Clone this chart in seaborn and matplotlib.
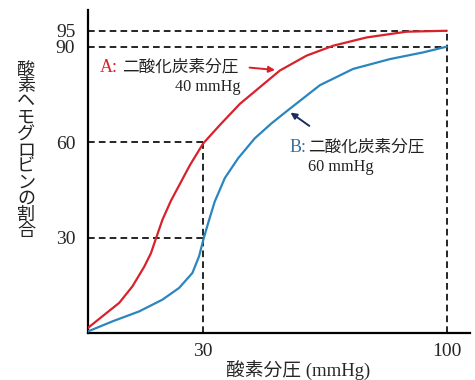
import numpy as np
import matplotlib
matplotlib.use('Agg')
import matplotlib.pyplot as plt
import pandas as pd
import seaborn as sns

# curve A: CO2 partial pressure 40 mmHg
a_po2 = [-3, 1.2, 6.0, 9.8, 13.2, 15.1, 16.5, 18.4, 20.8, 22.5, 26.3, 30.1, 34.9, 40.6,
         46.4, 52.1, 59.8, 67.4, 77.0, 88.4, 100]
a_sat = [1.6, 5.3, 9.5, 14.7, 20.9, 25.1, 29.6, 35.6, 41.5, 45.0, 52.8, 59.6, 65.4, 72.0,
         77.3, 82.5, 87.2, 90.3, 92.9, 94.7, 95]

# curve B: CO2 partial pressure 60 mmHg
b_po2 = [-3, 4.1, 11.7, 18.4, 23.2, 27.0, 28.9, 30.2, 31.5, 33.4, 36.3, 40.1, 44.9, 49.7,
         54.5, 63.6, 73.1, 83.7, 93.2, 100]
b_sat = [0.5, 3.7, 6.8, 10.5, 14.2, 18.9, 24.1, 29.6, 34.5, 41.3, 48.7, 54.9, 61.2, 65.9,
         70.1, 77.9, 83.0, 86.1, 88.2, 90]

y_ticks = [30, 60, 90, 95]
x_ticks = [30, 100]

red = '#d8222b'
blue = '#2a86bd'
serif = ['Liberation Serif', 'Noto Sans CJK JP']
gothic = ['Noto Sans CJK JP', 'DejaVu Sans']

sns.set_style('white')
plt.rcParams['font.family'] = gothic

df_a = pd.DataFrame({'po2': a_po2, 'sat': a_sat})
df_b = pd.DataFrame({'po2': b_po2, 'sat': b_sat})

fig = plt.figure(figsize=(4.75, 3.8), dpi=100)
ax = fig.add_axes([0.185, 0.1235, 0.804, 0.85])

# dashed guide lines
dash = dict(color='black', lw=1.2, ls=(0, (4, 2.5)), zorder=1)
for v in [95, 90]:
    ax.plot([-3, 100], [v, v], **dash)
ax.plot([100, 100], [0, 95], **dash)
for v in [60, 30]:
    ax.plot([-3, 30], [v, v], **dash)
ax.plot([30, 30], [0, 60], **dash)

sns.lineplot(data=df_a, x='po2', y='sat', color=red, lw=1.6, ax=ax, zorder=3)
sns.lineplot(data=df_b, x='po2', y='sat', color=blue, lw=1.6, ax=ax, zorder=3)

ax.set_xlim(-3, 106.6)
ax.set_ylim(0, 101.5)
ax.set_xticks(x_ticks)
ax.set_yticks(y_ticks)
ax.set_xticklabels([str(t) for t in x_ticks], family=serif, fontsize=14)
ax.set_yticklabels([str(t) for t in y_ticks], family=serif, fontsize=14)
ax.tick_params(axis='both', length=0)
ax.tick_params(axis='y', pad=9)
ax.tick_params(axis='x', pad=7)
ax.set_xlabel('')
ax.set_ylabel('')
sns.despine(ax=ax)
for s in ['left', 'bottom']:
    ax.spines[s].set_linewidth(1.6)
    ax.spines[s].set_color('black')

# labels for the curves
ax.text(0.4, 83.5, 'A:', color=red, family=serif, fontsize=13, va='center')
ax.text(6.9, 83.5, '二酸化炭素分圧', color='#222222', fontsize=12, va='center')
ax.text(31.4, 77.4, '40 mmHg', color='#222222', family=serif, fontsize=11.7, ha='center', va='center')
ax.annotate('', xy=(51.5, 82.6), xytext=(42.6, 83.5),
            arrowprops=dict(arrowstyle='-|>', color=red, lw=1.4, mutation_scale=9))

ax.text(54.8, 58.4, 'B:', color='#3b6f9c', family=serif, fontsize=13, va='center')
ax.text(60.3, 58.4, '二酸化炭素分圧', color='#222222', fontsize=12, va='center')
ax.text(60.1, 52.1, '60 mmHg', color='#222222', family=serif, fontsize=11.7, va='center')
ax.annotate('', xy=(54.5, 69.8), xytext=(61.2, 64.6),
            arrowprops=dict(arrowstyle='-|>', color='#1b2d5e', lw=1.4, mutation_scale=9))

# axis titles
ax.text(0.55, -0.118, '酸素分圧 (mmHg)', transform=ax.transAxes, family=serif,
        fontsize=13.5, ha='center', va='center')
ylab = '酸素ヘモグロビンの割合'
ax.text(-0.162, 0.565, '\n'.join(ylab), transform=ax.transAxes, fontsize=13,
        ha='center', va='center', linespacing=0.87, color='#222222')

fig.savefig('out.png', dpi=100)
